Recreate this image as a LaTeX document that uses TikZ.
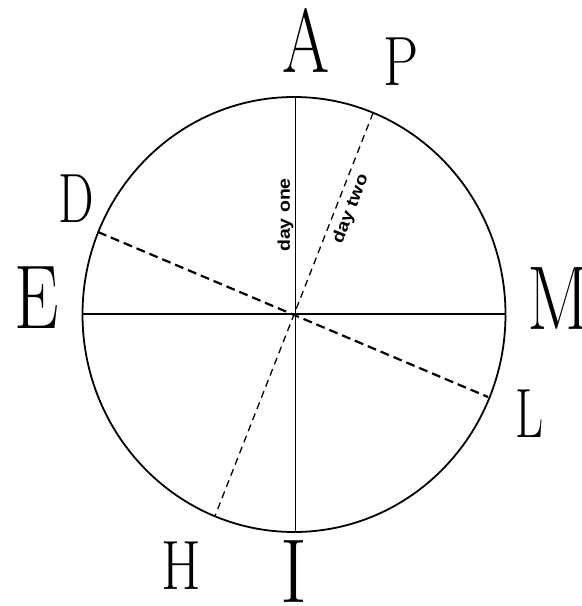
\documentclass[tikz,border=0pt]{standalone}
\usepackage{fontspec}
\newfontfamily\lblfont{Liberation Sans}
\tikzset{
  big/.style={inner sep=0pt, font=\fontsize{91}{91}\selectfont},
  small/.style={inner sep=0pt, font=\fontsize{70}{70}\selectfont},
  daytext/.style={inner sep=0pt, font=\lblfont\bfseries\fontsize{17}{17}\selectfont},
  solidline/.style={line width=1.6pt},
  thickdash/.style={line width=2.2pt, dash pattern=on 9pt off 5pt},
  thindash/.style={line width=1.3pt, dash pattern=on 7pt off 5pt},
}
\begin{document}
\begin{tikzpicture}[x=1bp,y=-1bp]
\useasboundingbox (0,0) rectangle (582,606);
\coordinate (O) at (295,314.5);
\draw[line width=1.8pt] (294,314.5) ellipse [x radius=211.5, y radius=217.5];
\coordinate (top) at (295.5,97);
\coordinate (bot) at (295.5,532);
\coordinate (lft) at (82.5,314);
\coordinate (rgt) at (505.5,314);
\coordinate (dpt) at (98,232);
\coordinate (lpt) at (488,397);
\coordinate (ppt) at (373,113);
\coordinate (hpt) at (215,516);
\draw[solidline] (top) -- (bot);
\draw[solidline, line width=1.9pt] (lft) -- (rgt);
\draw[thickdash] (dpt) -- (lpt);
\draw[thindash] (ppt) -- (hpt);
\node[big] (A) at (306,40) {\scalebox{0.75}[1]{A}};
\node[small] (P) at (401,61.5) {\scalebox{0.8}[1]{P}};
\node[small] (D) at (76,199) {\scalebox{0.72}[1]{D}};
\node[big] (E) at (36.5,298) {\scalebox{0.78}[1]{E}};
\node[big, anchor=west] (M) at (527,298.5) {\scalebox{0.8}[1]{M}};
\node[small] (L) at (530,414) {\scalebox{0.7}[1]{L}};
\node[small] (H) at (181.5,566) {\scalebox{0.82}[1]{H}};
\node[big] (I) at (294,572) {\scalebox{0.9}[1]{I}};
\node[daytext, rotate=90] (d1) at (285.5,215) {\scalebox{1.15}[1]{day one}};
\node[daytext, rotate=68.6] (d2) at (351,209) {\scalebox{1.15}[1]{day two}};
\end{tikzpicture}
\end{document}
